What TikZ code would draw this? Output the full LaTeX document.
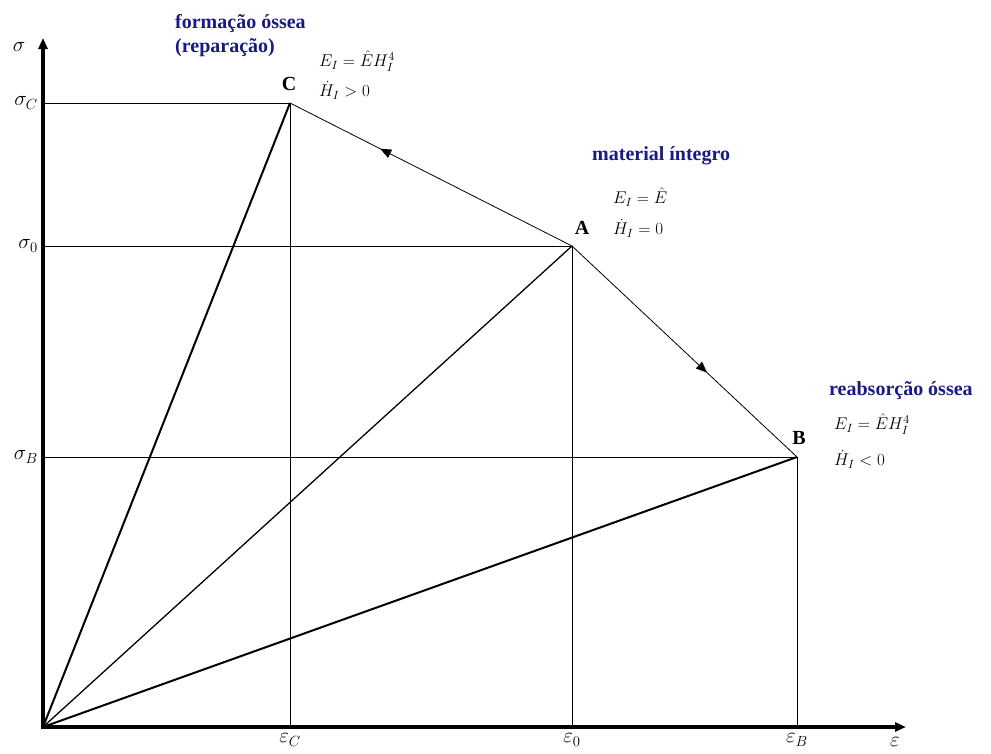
\RequirePackage{fix-cm}
\documentclass[tikz,border=0pt]{standalone}
\usepackage{fontspec}
\setmainfont{Liberation Serif}
\usetikzlibrary{arrows.meta,decorations.markings}
\definecolor{navy}{RGB}{25,25,135}
\tikzset{
  axisline/.style={line width=3.5pt,-{Triangle[length=11pt,width=9pt]}},
  ray/.style={line width=2pt},
  thinline/.style={line width=0.8pt},
  pathline/.style={line width=0.8pt,postaction={decorate}},
  lab/.style={font=\fontsize{20}{24}\selectfont\bfseries, text=navy, inner sep=0pt, anchor=west, align=left},
  pt/.style={font=\fontsize{20}{22}\selectfont\bfseries, inner sep=0pt},
  eq/.style={font=\fontsize{17}{20}\selectfont, inner sep=0pt, anchor=west},
  axlab/.style={font=\fontsize{21}{23}\selectfont, inner sep=0pt}
}
\begin{document}
\begin{tikzpicture}[x=1pt,y=-1pt]
\useasboundingbox (0,0) rectangle (991,753);
\coordinate (O) at (43,727);
\coordinate (C) at (290,103);
\coordinate (A) at (572,246);
\coordinate (B) at (797,457);
\coordinate (XE) at (906,727);
\coordinate (YE) at (43,38);
\coordinate (SC) at (43,103);
\coordinate (S0) at (43,246);
\coordinate (SB) at (43,457);
\coordinate (EC) at (290,727);
\coordinate (E0) at (572,727);
\coordinate (EB) at (797,727);
% guide lines
\draw[thinline] (SC) -- (C) -- (EC);
\draw[thinline] (S0) -- (A) -- (E0);
\draw[thinline] (SB) -- (B) -- (EB);
% rays
\draw[ray] (O) -- (C);
\draw[line width=1.3pt] (O) -- (A);
\draw[ray] (O) -- (B);
% path with mid arrows
\draw[pathline, decoration={markings, mark=at position 0.68 with {\arrow{Triangle[length=11pt,width=9pt]}}}] (A) -- (C);
\draw[pathline, decoration={markings, mark=at position 0.6 with {\arrow{Triangle[length=11pt,width=9pt]}}}] (A) -- (B);
% axes
\draw[axisline] (41,727) -- (XE);
\draw[axisline] (43,729) -- (YE);
% axis labels
\node[axlab] (sig) at (19,47) {$\sigma$};
\node[axlab] (eps) at (895,742) {$\varepsilon$};
\node[axlab, anchor=east] (lSC) at (38,103) {$\sigma_C$};
\node[axlab, anchor=east] (lS0) at (38,246) {$\sigma_0$};
\node[axlab, anchor=east] (lSB) at (38,457) {$\sigma_B$};
\node[axlab] (lEC) at (290,740) {$\varepsilon_C$};
\node[axlab] (lE0) at (572,740) {$\varepsilon_0$};
\node[axlab] (lEB) at (797,740) {$\varepsilon_B$};
% point labels
\node[pt] (pC) at (289,84) {C};
\node[pt] (pA) at (582,228) {A};
\node[pt] (pB) at (799,438) {B};
% descriptions
\node[lab] (tC) at (175,36) {formação óssea\\(reparação)};
\node[eq] (eC1) at (319,61) {$E_I=\hat{E}H_I^4$};
\node[eq] (eC2) at (319,90) {$\dot{H}_I>0$};
\node[lab] (tA) at (592,156) {material íntegro};
\node[eq] (eA1) at (613,197) {$E_I=\hat{E}$};
\node[eq] (eA2) at (613,228) {$\dot{H}_I=0$};
\node[lab] (tB) at (829,391) {reabsorção óssea};
\node[eq] (eB1) at (834,424) {$E_I=\hat{E}H_I^4$};
\node[eq] (eB2) at (834,459) {$\dot{H}_I<0$};
\end{tikzpicture}
\end{document}
